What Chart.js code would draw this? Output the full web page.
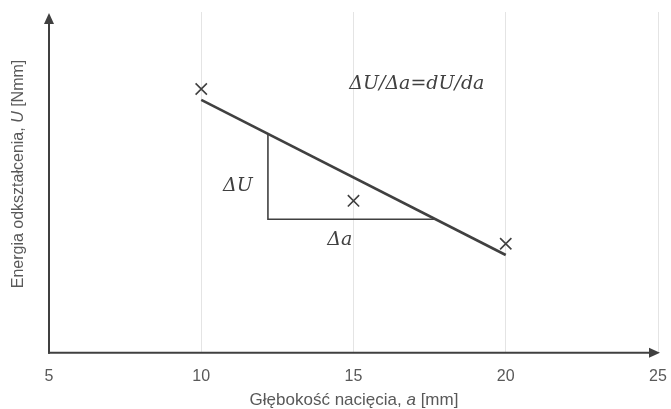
<!DOCTYPE html>
<html>
<head>
<meta charset="utf-8">
<script src="https://cdn.jsdelivr.net/npm/chart.js@4.4.0/dist/chart.umd.min.js"></script>
<style>
  html, body { margin: 0; padding: 0; background: #ffffff; }
  #wrap { width: 671px; height: 409px; }
</style>
</head>
<body>
<div id="wrap"><canvas id="c" width="671" height="409"></canvas></div>
<script>
// Notch depth a [mm] and measured strain energy U [Nmm]
const xTickValues = [5, 10, 15, 20, 25];
const depth = [10, 15, 20];
const energy = [77.4, 44.6, 32.0];

// Fitted straight line U(a)
const fitDepth = [10, 20];
const fitEnergy = [74.2, 28.7];

// Slope triangle under the fitted line
const triDepth = [12.19, 12.19, 17.68];
const triEnergy = [64.2, 39.2, 39.2];

// Formula labels and their anchor points (data units)
const noteText = ['ΔU/Δa=dU/da', 'ΔU', 'Δa'];
const noteDepth = [17.08, 11.2, 14.55];
const noteEnergy = [78.9, 49.0, 33.1];

const INK = '#404040';
const GREY = '#595959';

const toPoints = (xs, ys) => xs.map((x, i) => ({ x: x, y: ys[i] }));

// Axes with arrowheads, axis titles with italic symbols, and formula labels
const decorations = {
  id: 'decorations',
  afterDatasetsDraw(chart) {
    const { ctx, chartArea: a, scales } = chart;
    const xs = scales.x, ys = scales.y;
    const x0 = xs.getPixelForValue(5);
    const y0 = ys.getPixelForValue(0);
    ctx.save();
    ctx.strokeStyle = INK;
    ctx.fillStyle = INK;
    ctx.lineWidth = 2;
    // vertical axis
    ctx.beginPath();
    ctx.moveTo(x0, y0 + 1);
    ctx.lineTo(x0, a.top + 10);
    ctx.stroke();
    ctx.beginPath();
    ctx.moveTo(x0, a.top + 1);
    ctx.lineTo(x0 - 5, a.top + 12);
    ctx.lineTo(x0 + 5, a.top + 12);
    ctx.closePath();
    ctx.fill();
    // horizontal axis
    ctx.beginPath();
    ctx.moveTo(x0 - 1, y0);
    ctx.lineTo(a.right - 6, y0);
    ctx.stroke();
    ctx.beginPath();
    ctx.moveTo(a.right + 2, y0);
    ctx.lineTo(a.right - 9, y0 - 5);
    ctx.lineTo(a.right - 9, y0 + 5);
    ctx.closePath();
    ctx.fill();

    // formula labels
    ctx.font = 'italic 19px "DejaVu Serif"';
    ctx.textAlign = 'center';
    ctx.textBaseline = 'middle';
    noteText.forEach((t, i) => {
      ctx.fillText(t, xs.getPixelForValue(noteDepth[i]), ys.getPixelForValue(noteEnergy[i]));
    });

    // axis titles built from plain and italic runs
    const runs = (parts, cx, cy, rotate) => {
      ctx.save();
      ctx.translate(cx, cy);
      if (rotate) ctx.rotate(-Math.PI / 2);
      ctx.fillStyle = GREY;
      ctx.textAlign = 'left';
      ctx.textBaseline = 'middle';
      let total = 0;
      parts.forEach(p => { ctx.font = p.f; total += ctx.measureText(p.t).width; });
      let x = -total / 2;
      parts.forEach(p => { ctx.font = p.f; ctx.fillText(p.t, x, 0); x += ctx.measureText(p.t).width; });
      ctx.restore();
    };
    const px = '17px "Liberation Sans"';
    const ix = 'italic 17px "Liberation Sans"';
    const py = '16px "Liberation Sans"';
    const iy = 'italic 16px "Liberation Sans"';
    runs([{ t: 'Głębokość nacięcia, ', f: px }, { t: 'a', f: ix }, { t: ' [mm]', f: px }], 354, 400, false);
    runs([{ t: 'Energia odkształcenia, ', f: py }, { t: 'U', f: iy }, { t: ' [Nmm]', f: py }], 19, 174, true);
    ctx.restore();
  }
};

new Chart(document.getElementById('c'), {
  type: 'scatter',
  data: {
    datasets: [
      {
        label: 'pomiary',
        data: toPoints(depth, energy),
        pointStyle: 'crossRot',
        pointRadius: 8,
        pointBorderWidth: 1.6,
        borderColor: INK,
        backgroundColor: INK,
        showLine: false
      },
      {
        label: 'U(a)',
        data: toPoints(fitDepth, fitEnergy),
        showLine: true,
        borderColor: INK,
        borderWidth: 2.6,
        pointRadius: 0
      },
      {
        label: 'trójkąt',
        data: toPoints(triDepth, triEnergy),
        showLine: true,
        borderColor: INK,
        borderWidth: 1.6,
        pointRadius: 0
      }
    ]
  },
  options: {
    responsive: false,
    animation: false,
    devicePixelRatio: 1,
    layout: { padding: { left: 49, right: 13, top: 12, bottom: 9 } },
    plugins: { legend: { display: false }, tooltip: { enabled: false } },
    scales: {
      x: {
        type: 'linear',
        min: 5,
        max: 25,
        afterBuildTicks: (s) => { s.ticks = xTickValues.map(v => ({ value: v })); },
        afterFit: (s) => { s.paddingLeft = 0; s.paddingRight = 0; },
        ticks: { color: GREY, font: { family: 'Liberation Sans', size: 16 }, padding: 14 },
        grid: {
          drawTicks: false,
          color: (c) => (c.tick && c.tick.value === 5 ? 'rgba(0,0,0,0)' : '#e4e4e4'),
          lineWidth: 1
        },
        border: { display: false }
      },
      y: {
        type: 'linear',
        min: 0,
        max: 100,
        ticks: { display: false },
        grid: { display: false, drawTicks: false },
        border: { display: false }
      }
    }
  },
  plugins: [decorations]
});
</script>
</body>
</html>
